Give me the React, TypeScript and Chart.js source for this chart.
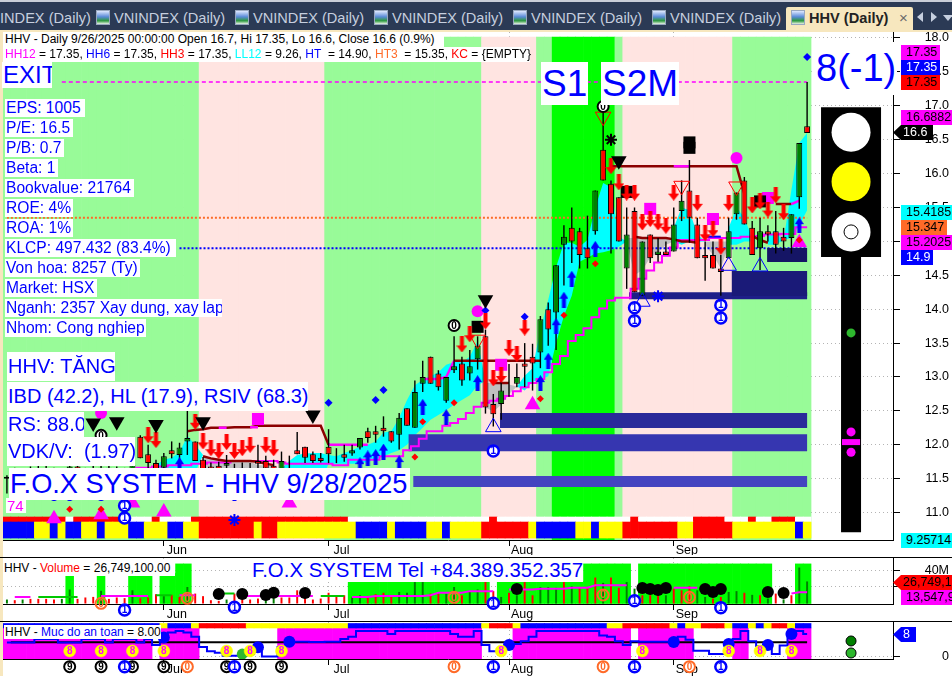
import React, { useEffect, useRef } from "react";
import { Chart, registerables } from "chart.js";
Chart.register(...registerables);

/* ---------- data ---------- */
const mayDays = [5,6,7,8,9,12,13,14,15,16,19,20,21,22,23,26,27,28,29,30];
const junDays = [2,3,4,5,6,9,10,11,12,13,16,17,18,19,20,23,24,25,26,27,30];
const julDays = [1,2,3,4,7,8,9,10,11,14,15,16,17,18,21,22,23,24,25,28,29,30,31];
const augDays = [1,4,5,6,7,8,11,12,13,14,15,18,19,20,21,22,25,26,27,28,29];
const sepDays = [3,4,5,8,9,10,11,12,15,16,17,18,19,22,23,24,25,26];
const monthNames = ["May", "Jun", "Jul", "Aug", "Sep"];
const monthDays = [mayDays, junDays, julDays, augDays, sepDays];
const dates = monthDays.flatMap((d, m) => d.map((n) => `${monthNames[m]} ${n}`));
const monthStarts = [20, 41, 64, 85];
const priceTicks = [11,11.5,12,12.5,13,13.5,14,14.5,15,15.5,16,16.5,17,17.5,18];
const volumeTicks = [20,40];
const safetyTicks = [0];

const opens = [11.5,11.6,11.48,11.58,11.52,11.64,11.56,11.48,11.46,11.68,11.54,11.5,11.44,11.66,11.54,11.6,11.46,12.12,11.86,11.73,11.66,11.92,11.85,12.05,12.05,11.78,11.68,11.69,11.69,11.65,11.62,11.7,11.76,11.76,11.69,11.63,11.82,11.92,11.97,11.86,11.81,11.97,11.8,11.86,11.87,11.96,12.2,12.2,12.25,12.2,12.15,12.54,12.25,12.9,13.3,13.05,12.65,13.1,13.2,13.05,13.26,13.6,12.6,12.6,12.81,12.9,13.2,13.3,13.36,14,13.95,14.95,15.2,15.15,14.9,15.15,16.35,15.85,15.65,14.6,15.45,14.2,15.1,14.8,14.85,14.85,15.45,15.75,15.25,14.8,14.8,14.6,14.75,15.4,15.9,15.2,14.9,15.15,15.15,15.07,15.05,15.65,16.7];
const highs = [11.55,11.66,11.62,11.68,11.7,11.72,11.66,11.64,11.74,11.72,11.66,11.7,11.72,11.7,11.68,11.66,11.76,12.14,12,11.78,11.88,12.05,12.03,12.51,12.05,11.82,11.74,11.75,11.85,11.72,11.74,11.73,12,11.84,11.78,11.9,11.84,12.19,11.97,11.9,11.88,12.23,11.95,12,12,12.1,12.25,12.28,12.42,12.2,12.47,12.54,12.95,13.24,13.3,13.1,13,13.6,13.3,13.4,13.6,13.7,12.75,13.05,13.19,13.2,13.5,13.49,13.9,14.1,14.65,15.24,15.5,15.2,15.38,15.75,16.9,15.9,15.65,15.5,15.5,15,15.1,15.05,15,15.5,15.9,16.2,15.35,15,15,14.8,15.35,15.72,15.95,15.3,15.35,15.24,15.45,15.2,15.4,16.45,17.35];
const lows = [11.28,11.42,11.4,11.44,11.46,11.5,11.42,11.4,11.38,11.48,11.44,11.44,11.36,11.46,11.48,11.44,11.4,11.8,11.6,11.56,11.56,11.8,11.72,11.85,11.76,11.55,11.5,11.56,11.62,11.52,11.54,11.6,11.6,11.55,11.5,11.52,11.63,11.86,11.73,11.73,11.74,11.73,11.73,11.75,11.84,11.93,12.03,12.03,12.12,12.03,11.93,12.28,12.25,12.78,12.9,12.8,12.62,13.06,12.87,12.95,13.11,12.46,12.27,12.37,12.71,12.85,12.85,12.8,13.13,13.46,13.4,14.35,14.68,14.6,14.6,15.1,15.9,14.82,15,14.3,14.25,14.2,14.68,14.7,14.8,14.85,15.3,14.98,14.75,14.42,14.6,14.2,14.75,15.32,15.25,14.8,14.58,15,14.82,14.86,14.82,15.48,16.6];
const closes = [11.53,11.48,11.58,11.52,11.64,11.56,11.48,11.6,11.68,11.54,11.5,11.62,11.66,11.54,11.6,11.5,11.7,11.8,11.73,11.63,11.83,11.86,11.96,12.1,11.76,11.63,11.58,11.62,11.73,11.58,11.66,11.7,11.72,11.65,11.6,11.76,11.82,11.86,11.81,11.76,11.76,11.86,11.8,11.81,11.92,12.1,12.1,12.15,12.2,12.05,12.4,12.28,12.78,13,12.9,12.85,13,13.16,12.95,13.16,13.46,12.55,12.45,12.8,12.81,13,13.15,13.2,13.85,13.7,14.65,15.07,15,14.8,14.75,15.75,15.9,15.4,15,15.1,14.25,15,14.75,14.85,14.8,15.25,15.6,15.35,14.75,14.75,14.6,14.55,15.15,15.72,15.25,14.8,15.15,15.1,14.95,15,15.4,16.45,16.6];

const zoneRuns = [["g",25],["p",16],["g",20],["p",7],["g",2],["l",8],["g",1],["p",14],["g",10]];
const stateRuns = [["b",4],["y",2],["b",1],["y",1],["b",2],["y",2],["b",1],["y",3],["b",2],["y",3],["b",2],["y",2],["r",7],["y",1],["r",2],["y",10],["b",4],["y",1],["b",4],["y",2],["b",1],["y",4],["r",6],["y",1],["b",5],["y",2],["b",1],["y",3],["r",7],["y",2],["r",5],["y",8],["b",1],["y",1]];
const alertRuns = [["r",8],["w",1],["r",7],["w",3],["r",1],["w",4],["r",20],["w",18],["r",1],["w",17],["r",1],["w",7],["r",4],["w",3],["r",1],["w",2],["r",3],["w",2]];
const zoneBounds = [10.596, 18.015];
const stateBounds = [10.625, 10.861];
const alertBounds = [10.861, 10.935];

const cyanSegments = [
  [18, [11.63,11.7,11.78,11.81,11.89,12.13,12,11.85], [11.63,11.55,11.5,11.5,11.5,11.5,11.6,11.85]],
  [35, [11.65,11.76,11.85,11.87,11.88,11.88,11.85,11.83,11.88,11.92,11.97,12,12.05,12.18,12.2,12.4,12.66,12.88,12.96,13.01,13.07,13.18,13.22,13.22,13.3,13.53,12.94],
       [11.5,11.45,11.45,11.45,11.45,11.45,11.72,11.72,11.72,11.72,11.72,11.75,11.78,11.83,11.88,11.92,12,12.14,12.25,12.37,12.44,12.51,12.59,12.66,12.73,12.88,12.94]],
  [65, [12.86,13.02,13.13,13.69,14.14,14.62,14.98,14.98,14.92,15.02,15.5,15.86,15.8,15.07,15], [12.86,12.8,12.93,12.96,13.01,13.5,13.9,14.2,14.7,14.76,14.82,14.84,14.87,14.92,15]],
  [85, [15.2,15.5,15.46,15.1,15], [15,14.95,15,15,15]],
  [92, [15.2,15.5,15.35,15.05], [14.95,14.95,15,15]],
  [97, [15.07,15.17], [14.95,14.95]],
  [99, [15.02,15.76,16.45,16.6], [15.02,15.05,15.24,15.46]],
];
const graySegments = [
  [25, [11.83,11.8,11.77,11.76,11.75,11.75,11.75,11.7,11.7,11.68,11.62], [11.5,11.5,11.5,11.5,11.5,11.5,11.5,11.5,11.5,11.5,11.62]],
  [61, [12.91,12.91,12.91,12.89,12.86], [12.55,12.49,12.59,12.75,12.86]],
  [79, [15.05,15.05,15.05,15.05,15.05,15.05,15], [15,14.5,14.58,14.76,14.84,14.95,15]],
  [89, [15,15,15,15], [14.95,14.8,14.6,14.95]],
  [98, [15.14,15.14], [15.14,15]],
];
const supportLine = [11.2,11.2,11.2,11.2,11.2,11.2,11.3,11.3,11.4,11.4,11.4,11.5,11.5,11.5,11.6,11.6,11.6,11.66,11.66,11.68,11.68,11.7,11.7,11.7,11.72,11.72,11.74,11.74,11.74,11.76,11.76,11.76,11.76,11.76,11.76,11.74,11.72,11.72,11.72,11.72,11.72,11.72,11.7,11.7,11.78,11.78,11.78,11.78,11.83,11.83,11.83,11.92,11.98,12.09,12.2,12.2,12.28,12.32,12.38,12.47,12.56,12.62,12.65,12.68,12.72,12.79,12.85,12.91,12.97,13.07,13.19,13.31,13.53,13.62,13.72,13.88,14.01,14.13,14.17,14.17,14.3,14.45,14.57,14.69,14.79,14.91,15.02,15.02,15.02,15.02,15.05,15.05,15.05,15.05,15.07,15.07,15.08,15.1,15.1,15.11,15.11,15.21,15.21];
const resistancePrimary = [[23,[12.2,12.22,12.23,12.25,12.25,12.25,12.26,12.26,12.26,12.28,12.28,12.28,12.28,12.28,12.28,12.28,12.28,12.28,12.0]],[57,[13.24,13.24,13.24,13.24,13.24,13.24,13.24,13.24,13.24,13.24,13.24,13.24]],[77,[16.11,16.11,16.11,16.11,16.11,16.11,16.11,16.11,16.11,16.11,16.11,16.11,16.11,16.11,16.11,16.11,16.11,15.7]],[98,[15.55,15.55,15.55]]];
const resistanceSecondary = [[25,[11.83,11.8,11.78,11.76,11.76,11.76,11.76,11.75,11.72,11.7]],[62,[12.91,12.91,12.91]],[80,[15.07,15.05,15.05,15.05,15.05,15.03,15,15,14.98]],[95,[15.08,15.02,14.98]]];
const resistanceAccent = [[27,[12.25,12.25]],[31,[12.26,12.26]],[41,[12,12,12,12,12,12]],[53,[12.97,12.97,12.97,13,13.24]],[85,[16.11,16.11,16.11]],[100,[15.55,15.6]]];
const blueDrift = [[89,[15.07,15.07,15.07]]];
const levelExit = 17.35;
const levelOrange = 15.35;
const levelBlue = 14.9;

const bandSpans = [[62.85,12.36],[51.2,12.03],[51.8,11.46],[79.3,14.2],[92.4,14.38],[96.9,14.8]];
const bandLastBar = 102;

const redArrows = [[18,12.14],[19,12.07],[24,12.34],[25,12.05],[26,11.95],[27,11.91],[28,12.04],[29,11.91],[30,11.95],[31,12],[33,12],[34,11.95],[58,13.48],[59,13.63],[61,13.82],[62,12.98],[63,13.03],[64,13.43],[65,13.34],[66,13.73],[77,16.11],[78,15.87],[79,15.72],[80,15.72],[81,15.28],[82,15.33],[83,15.28],[84,15.23],[85,15.72],[88,15.57],[89,15.12],[90,15.18],[91,14.92],[92,15.57],[95,15.53],[96,15.59],[97,15.47],[98,15.68],[99,15.43]];
const blueArrows = [[6,11.29],[8,11.29],[12,11.29],[22,11.7],[29,11.29],[45,11.7],[46,11.8],[47,11.82],[48,11.9],[50,11.73],[53,12.56],[56,12.41],[60,12.91],[68,12.91],[69,13.24],[70,13.75],[71,14.14],[72,14.45],[75,14.89],[101,15.24]];
const blackTriangles = [[11,12.32],[14,12.34],[19,12.3],[25,12.34],[39,12.44],[61,14.14],[78,16.19]];
const magentaSquares = [[32,12.38],[63,13.18],[82,15.48],[90,15.33],[97,15.64]];
const blackSquares = [[60,13.74],[79,15.73],[96,15.59],[87,16.38],[87,16.46]];
const magentaCircles = [[12,12.47],[60,13.97],[93,16.23]];
const hollowRedTriangles = [[76,16.84],[86,15.82],[93,15.81],[60,13.55]];
const hollowBlueTriangles = [[62,12.26],[81,14.11],[92,14.64],[96,14.63]];
const blueDiamonds = [[41,12.62],[47,12.66],[48,12.81],[61,13.98],[66,13.89],[102,17.72]];
const redDiamonds = [[8,11.05],[12,11.05],[52,11.82],[53,12.34],[57,12.62],[68,12.68],[71,13.91],[75,14.67],[101,15.02]];
const magentaTriangles = [[6,10.91],[12,10.97],[16,11.14],[20,11.01],[36,11.14],[67,12.59],[101,14.98]];
const blueStars = [[29,10.89],[83,14.19]];
const blackStars = [[77,16.5]];
const blueOnes = [[80,14.02],[80,13.83],[91,14.06],[91,13.87],[62,11.91],[15,11.1],[15,10.92]];
const blackZeros = [[76,16.99],[57,13.76],[12,12.14]];

const lightPos = 107.6;
const lightHood = [16.98, 14.77];
const lightPole = [14.77, 10.71];
const lightLamps = [16.61, 15.88, 15.14];
const lightGreenDot = [13.65];
const lightMagentaDots = [12.19, 11.89];
const lightMagentaBar = [12.04];

const volumes = [4.8,4,4.8,5.6,5.6,5.6,4.8,5.6,17,5.6,7.3,8,15.4,5.6,7.3,6.5,16,6.5,7.3,11.3,8.9,10.5,8,20,12,8.9,4,3.2,4.8,12,6,4.8,6,8,8.9,7.3,7.3,16,10,4.8,6,13,8,10,7.3,10,8,11.3,13,10,14,13,26,26,12,12,12,20,10,14,17,26,15,8,13,10,26,10,20,20,19,26,21,20,20,31.5,25,31.5,19,26,18,10,10,10,10,18,16,21,16,8,6,8,14,15,13,10.5,10,6,12,5,10,43.6,26.75];
const volumeSides = "grgrrrrggrrrgrrrgrrrgrrgrrrrgrrrrggrrrrrrrrrggrrrrggggrrggrggrrgrgrrgggrgrrrgrrggrrrgrrrggrrggrgrgrgrggr".slice(0, 103);
const volumeShade = [0,0,0,0,0,0,0,0,36.4,0,0,0,36.4,0,0,0,36.4,36.4,36.4,0,36.4,36.4,48,48,0,0,0,0,0,0,0,0,0,0,0,0,0,0,0,0,0,0,0,0,26.7,26.7,26.7,26.7,26.7,26.7,26.7,26.7,26.7,26.7,26.7,26.7,26.7,26.7,26.7,26.7,26.7,26.7,0,26.7,26.7,26.7,26.7,26.7,26.7,26.7,26.7,26.7,26.7,26.7,48,48,48,48,48,48,0,48,48,48,48,48,48,48,48,48,48,48,48,48,48,48,48,48,0,0,0,48,48];
const volumeAverage = [8,8,8,8,8,8,8,8,8,8,8,9,9,9,9,9,9,9,9,10,10,10,10,10,10,12,12,12,12,12,9,9,9,9,9,9,9,9,9,9,9,9,9,9,8,8,8,9,9,9,9,9,9,9,10,13,13,13,13,15,15,15,15,0,17,17,17,17,18,18,18,18,19,19,19,22,22,22,22,22,0,0,0,0,0,19,19,19,19,0,0,0,0,0,0,0,0,0,12,0,12,13.5,13.5];
const volumeAverageGreen = [0,4,5,6,7,8,9,11,19,20,21,25,27,28,29,40,41,42,43,98];
const blackDots = [[27,11.5],[30,11.5],[33,10.3],[34,13],[38,12.7],[65,17.6],[81,18.8],[82,17.6],[83,16.4],[84,18.8],[89,17.6],[90,13.9],[91,17.6],[97,13.9],[99,12.7]];
const volumeZeros = [[12,0.2],[23,6.3],[57,7.5],[76,10.3],[87,7.5]];
const volumeOnes = [[15,-7.9],[29,-4.6],[62,0.2],[80,3.4],[91,-5]];

const safetyRuns = [["b",20],["y",1],["b",3],["y",1],["r",6],["y",13],["b",17],["y",1],["r",3],["y",1],["b",11],["y",2],["r",6],["y",1],["b",1],["y",2],["r",3],["y",1],["b",2],["y",1],["b",1],["y",1],["r",2],["y",1],["b",2]];
const safeRuns = [[0,18],[20,24],[35,60],[65,79],[81,87],[93,94],[100,102]];
const safetyLine = [5,5,5,5,6.3,6.3,6.3,5,5,5,6.3,6.3,6.3,5,6.3,6.3,6.3,5,6.3,4.2,6.8,8.5,9,8.5,7,3.5,2,1.5,0.4,0.4,0.4,1,2,0.2,0.2,3.5,5.3,5.3,5.3,5.2,5.2,5.3,5.3,6.3,7,9,9,9,9,8,9,9,9,9,9,9,9,8,7,7,9,4.2,2,2,4.5,4.5,5.5,7,9,9,9,9,9,9,9,9,7.5,7,5.5,4.2,5.5,5.3,5.3,5.3,5.3,6.3,7,6,2.2,2.2,1,1,1,6.3,9,5.5,3.8,3.8,1,4,7.7,9,8];
const safetyLevel = 5.1;
const safetyBounds = [-0.7, 10.09, 11.65];
const safetyDots = [[20,6.8],[32,3.4],[36,5.3],[64,4.2],[85,5.2],[92,4.5],[97,4.2],[100,8]];
const safetyGreen = [[30,1]];
const safetyEights = [[8,2.09],[12,2.09],[16,2.09],[20,2.09],[28,2.09],[31,2.09],[35,2.09],[63,2.09],[81,2.09],[92,2.09],[96,2.09],[100,2.09]];
const safetyNines = [[8,-3.37],[12,-3.37],[16,-3.37],[20,-3.37],[28,-3.37],[31,-3.37],[35,-3.37]];
const safetyOnes = [[15,-3.37],[29,-3.37],[62,-3.37],[80,-3.37],[91,-3.37]];
const safetyZeros = [[23,-3.37],[57,-3.37],[76,-3.37],[87,-3.37]];
const safetyLights = [5.57, 1.39];

const factRows = ["EPS: 1005","P/E: 16.5","P/B: 0.7","Beta: 1","Bookvalue: 21764","ROE: 4%","ROA: 1%","KLCP: 497.432 (83.4%)","Von hoa: 8257 (Ty)","Market: HSX","Nganh: 2357 Xay dung, xay lap","Nhom: Cong nghiep"];
const tabTitle = "VNINDEX (Daily)";

/* ---------- helpers ---------- */
const N = dates.length;
const FONT = "'Liberation Sans', Arial, sans-serif";
const PAL: Record<string, string> = { g: "#98FB98", p: "#FFE4E1", l: "#00FF00", b: "#0000FF", y: "#FFFF00", r: "#FF0000", w: "#FFFFFF" };
const expand = (runs: any[]) => runs.flatMap(([c, n]: any) => Array(n).fill(c));
const fromSegments = (segs: any[], pick: number) => {
  const out: (number | null)[] = Array(N).fill(null);
  segs.forEach((s: any) => s[pick].forEach((v: number, k: number) => { out[s[0] + k] = v; }));
  return out;
};
const series = (a: (number | null)[]) => a.map((y, x) => ({ x, y }));
const pairs = (a: number[][]) => a.map(([x, y]) => ({ x, y }));
const rangeBars = (code: string[], lo: number, hi: number) => ({
  type: "bar", data: code.map((_, x) => ({ x, y: [lo, hi] })), backgroundColor: code.map((c) => PAL[c]),
  categoryPercentage: 1, barPercentage: 1, grouped: false, borderWidth: 0,
});
const lineSet = (a: any[], color: string, width: number, extra: any = {}) => ({
  type: "line", data: a, borderColor: color, borderWidth: width, pointRadius: 0, tension: 0, fill: false, borderCapStyle: "butt", ...extra,
});
const marks = (a: number[][], style: any, r: number, bg: string, extra: any = {}) => ({
  type: "line", data: pairs(a), showLine: false, pointStyle: style, pointRadius: r, pointBackgroundColor: bg,
  pointBorderColor: bg, pointBorderWidth: 0, ...extra,
});
const arrowImage = (color: string, up: boolean, w: number, h: number) => {
  const c = document.createElement("canvas"); c.width = w; c.height = h;
  const g = c.getContext("2d")!;
  g.fillStyle = color;
  if (!up) { g.translate(0, h); g.scale(1, -1); }
  const s = Math.round(w * 0.18);
  const hh = Math.round(h * 0.45);
  g.beginPath(); g.moveTo(w / 2, 0); g.lineTo(w, hh); g.lineTo(w / 2 + s, hh); g.lineTo(w / 2 + s, h);
  g.lineTo(w / 2 - s, h); g.lineTo(w / 2 - s, hh); g.lineTo(0, hh); g.closePath(); g.fill();
  return c;
};
const glyphPlugin = (sets: any[]) => ({
  id: "glyphs",
  afterDatasetsDraw(chart: any) {
    const { ctx, scales } = chart;
    sets.forEach((g) => g.points.forEach(([i, v]: number[]) => {
      const px = scales.x.getPixelForValue(i); const py = scales.y.getPixelForValue(v);
      ctx.save();
      ctx.beginPath(); ctx.arc(px, py, g.r, 0, Math.PI * 2);
      if (g.fill) { ctx.fillStyle = g.fill; ctx.fill(); }
      ctx.lineWidth = g.ring; ctx.strokeStyle = g.stroke; ctx.stroke();
      ctx.fillStyle = g.color; ctx.font = `bold 10px ${FONT}`; ctx.textAlign = "center"; ctx.textBaseline = "middle";
      ctx.fillText(g.text, px, py + 0.5);
      ctx.restore();
    }));
  },
});
const oneStyle = { text: "1", r: 5.5, ring: 2.5, stroke: "#0000FF", fill: "#FFFFFF", color: "#0000FF" };
const zeroStyle = { text: "0", r: 5.5, ring: 2, stroke: "#000000", fill: "#FFFFFF", color: "#000000" };
const orangeStyle = { text: "0", r: 5.5, ring: 2, stroke: "#FF6A28", fill: null, color: "#FF6A28" };
const orangeFilled = { ...orangeStyle, fill: "#FFFFFF" };
const nineStyle = { text: "9", r: 5.5, ring: 2, stroke: "#000000", fill: "#FFFFFF", color: "#000000" };
const eightStyle = { text: "8", r: 6, ring: 0.5, stroke: "#FFFF00", fill: "#FFFF00", color: "#FF00FF" };

const xAxis = (h: number, pad: number) => ({
  type: "linear", min: -0.5, max: -0.5 + 890 / 7.845, offset: false, bounds: "data",
  afterBuildTicks: (a: any) => { a.ticks = monthStarts.map((value) => ({ value })); },
  afterFit: (s: any) => { s.height = h; s.paddingLeft = 0; s.paddingRight = 0; s.paddingTop = 0; s.paddingBottom = 0; },
  grid: { offset: false, color: "#b4b4b4", tickColor: "#000", tickLength: 6, lineWidth: 1 },
  border: { color: "#000", dash: [1, 3] },
  ticks: {
    autoSkip: false, maxRotation: 0, minRotation: 0, color: "#000", padding: pad, labelOffset: 13,
    font: { family: FONT, size: 12.5 },
    callback: (v: number) => dates[v] ? dates[v].split(" ")[0] : "",
  },
});
const yAxis = (min: number, max: number, list: number[], cb: any) => ({
  position: "right", min, max, bounds: "data",
  afterBuildTicks: (a: any) => { a.ticks = list.map((value) => ({ value })); },
  afterFit: (s: any) => { s.width = 56; s.paddingTop = 0; s.paddingBottom = 0; s.paddingLeft = 0; s.paddingRight = 0; },
  grid: { color: "#b4b4b4", tickColor: "#000", tickLength: 7 },
  border: { color: "#000", dash: [1, 3] },
  ticks: { autoSkip: false, crossAlign: "far", padding: 2, color: "#000", font: { family: FONT, size: 12.5 }, callback: cb },
});
const baseOptions = (scales: any) => ({
  animation: false, responsive: false, maintainAspectRatio: false, devicePixelRatio: 1, events: [],
  layout: { autoPadding: false, padding: { left: 3, right: 3, top: 0, bottom: 0 } },
  plugins: { legend: { display: false }, tooltip: { enabled: false } },
  scales,
});
const withOrder = (sets: any[]) => sets.map((d, i) => ({ ...d, order: sets.length - i }));

/* ---------- chart builders ---------- */
function priceDatasets() {
  const redArrow = arrowImage("#FF0000", false, 11, 16);
  const blueArrow = arrowImage("#0000FF", true, 9, 16);
  const cyanTop = fromSegments(cyanSegments, 1), cyanBottom = fromSegments(cyanSegments, 2);
  const grayTop = fromSegments(graySegments, 1), grayBottom = fromSegments(graySegments, 2);
  const up = opens.map((o, i) => closes[i] >= o);
  const level = (v: number, c: string, dash: number[], from: number, w: number) =>
    lineSet([{ x: from, y: v }, { x: 102, y: v }], c, w, { borderDash: dash });
  const band = (k: number, c: string, w: number) =>
    lineSet([{ x: bandSpans[k][0], y: bandSpans[k][1] }, { x: bandLastBar, y: bandSpans[k][1] }], c, w);
  const seg = (s: any[]) => { const o: (number | null)[] = Array(N).fill(null); s.forEach((q: any) => q[1].forEach((v: number, k: number) => { o[q[0] + k] = v; })); return series(o); };
  return withOrder([
    rangeBars(expand(zoneRuns), zoneBounds[0], zoneBounds[1]),
    rangeBars(expand(alertRuns), alertBounds[0], alertBounds[1]),
    rangeBars(expand(stateRuns), stateBounds[0], stateBounds[1]),
    lineSet(series(cyanTop), "rgba(0,0,0,0)", 0, { fill: "+1", backgroundColor: "#00FFFF" }),
    lineSet(series(cyanBottom), "rgba(0,0,0,0)", 0),
    lineSet(series(grayTop), "rgba(0,0,0,0)", 0, { fill: "+1", backgroundColor: "#C0C0C0" }),
    lineSet(series(grayBottom), "rgba(0,0,0,0)", 0),
    level(levelExit, "#FF00FF", [4, 3], 7, 1.5),
    level(levelOrange, "#FF6A28", [2, 2], 0, 2),
    level(levelBlue, "#0000FF", [2, 2], 22, 2),
    band(2, "#4444C0", 11), band(1, "#3636B0", 17), band(0, "#2A2A9A", 15),
    band(3, "#1E1E88", 7), band(4, "#1A1A78", 25), band(5, "#151565", 14),
    lineSet(series(supportLine), "#FF00FF", 2, { stepped: "middle" }),
    lineSet(seg(resistancePrimary), "#8B0000", 2.5),
    lineSet(seg(resistanceSecondary), "#8B0000", 2.5),
    lineSet(seg(blueDrift), "#0000FF", 2),
    lineSet(seg(resistanceAccent), "#FF00FF", 2.5),
    { type: "bar", data: dates.map((_, x) => ({ x, y: [lows[x], highs[x]] })), backgroundColor: "#000", categoryPercentage: 0.18, barPercentage: 1, grouped: false, inflateAmount: 0 },
    { type: "bar", data: dates.map((_, x) => ({ x, y: [opens[x], closes[x]] })).filter((d) => up[d.x]), backgroundColor: "#008000", borderColor: "#000", borderWidth: 1, borderSkipped: false, categoryPercentage: 0.76, barPercentage: 1, grouped: false },
    { type: "bar", data: dates.map((_, x) => ({ x, y: [opens[x], closes[x]] })).filter((d) => !up[d.x]), backgroundColor: "#FF0000", borderColor: "#000", borderWidth: 1, borderSkipped: false, categoryPercentage: 0.76, barPercentage: 1, grouped: false },
    marks(magentaTriangles, "triangle", 9, "#FF00FF"),
    marks(magentaSquares, "rect", 8.5, "#FF00FF"),
    marks(magentaCircles, "circle", 6, "#FF00FF"),
    marks(blackSquares, "rect", 8.5, "#000"),
    marks(redDiamonds, "rectRot", 3.5, "#FF0000"),
    marks(blueDiamonds, "rectRot", 4, "#0000FF"),
    marks(redArrows, redArrow, 8, "#FF0000"),
    marks(blueArrows, blueArrow, 8, "#0000FF"),
    marks(blackTriangles, "triangle", 9, "#000", { pointRotation: 180 }),
    marks(hollowRedTriangles, "triangle", 9, "rgba(0,0,0,0)", { pointRotation: 180, pointBorderColor: "#FF0000", pointBorderWidth: 1 }),
    marks(hollowBlueTriangles, "triangle", 9, "rgba(0,0,0,0)", { pointBorderColor: "#0000FF", pointBorderWidth: 1 }),
    marks(blueStars, "star", 6, "#0000FF", { pointBorderWidth: 2, pointBorderColor: "#0000FF" }),
    marks(blackStars, "star", 6, "#000", { pointBorderWidth: 2, pointBorderColor: "#000" }),
    lineSet([{ x: lightPos, y: lightHood[0] }, { x: lightPos, y: lightHood[1] }], "#000", 60),
    lineSet([{ x: lightPos, y: lightPole[0] }, { x: lightPos, y: lightPole[1] }], "#000", 20),
    marks([[lightPos, lightLamps[0]]], "circle", 19.5, "#FFFFFF"),
    marks([[lightPos, lightLamps[1]]], "circle", 19.5, "#FFFF00"),
    marks([[lightPos, lightLamps[2]]], "circle", 19.5, "#FFFFFF"),
    marks([[lightPos, lightLamps[2]]], "circle", 7, "#FFFFFF", { pointBorderColor: "#000", pointBorderWidth: 1 }),
    marks([[lightPos, lightGreenDot[0]]], "circle", 4.5, "#2EB82E"),
    marks(lightMagentaDots.map((v) => [lightPos, v]), "circle", 4.5, "#FF00FF"),
    lineSet([{ x: lightPos - 1.15, y: lightMagentaBar[0] }, { x: lightPos + 1.15, y: lightMagentaBar[0] }], "#FF00FF", 6),
  ]);
}
function volumeDatasets() {
  const shade = volumeShade.map((y, x) => ({ x, y })).filter((d) => d.y > 0);
  const green = new Set(volumeAverageGreen);
  const avg = volumeAverage.map((v, x) => ({ x, y: v > 0 && !green.has(x) ? v : null }));
  const avgG = volumeAverage.map((v, x) => ({ x, y: v > 0 && green.has(x) ? v : null }));
  const all = volumes.map((y, x) => ({ x, y }));
  return withOrder([
    { type: "bar", data: shade, backgroundColor: "#00FF00", categoryPercentage: 1, barPercentage: 1, grouped: false },
    { type: "bar", data: all.filter((d) => volumeSides[d.x] === "g"), backgroundColor: "#008000", categoryPercentage: 0.25, barPercentage: 1, grouped: false },
    { type: "bar", data: all.filter((d) => volumeSides[d.x] !== "g"), backgroundColor: "#FF0000", categoryPercentage: 0.25, barPercentage: 1, grouped: false },
    lineSet(avg, "#FF00FF", 2),
    lineSet(avgG, "#00C800", 2),
    marks(blackDots, "circle", 6, "#000"),
  ]);
}
function safetyDatasets() {
  const code = expand(safetyRuns);
  const safe = dates.map((_, x) => x).filter((x) => safeRuns.some(([a, b]) => x >= a && x <= b));
  return withOrder([
    { type: "bar", data: safe.map((x) => ({ x, y: [safetyBounds[0], safetyBounds[1]] })), backgroundColor: "#FF00FF", categoryPercentage: 1, barPercentage: 1, grouped: false, borderWidth: 0 },
    rangeBars(code, safetyBounds[1], safetyBounds[2]),
    lineSet([{ x: 0.5, y: safetyLevel }, { x: 102, y: safetyLevel }], "#000", 2),
    lineSet(series(safetyLine), "#0000FF", 2, { stepped: "middle" }),
    marks(safetyGreen, "circle", 5.5, "#2EB82E"),
    marks(safetyDots, "circle", 6, "#0000FF"),
    marks([[lightPos, safetyLights[0]]], "circle", 5, "#008000", { pointBorderColor: "#000", pointBorderWidth: 1 }),
    marks([[lightPos, safetyLights[1]]], "circle", 5, "#2EB82E", { pointBorderColor: "#000", pointBorderWidth: 1 }),
  ]);
}

/* ---------- small html pieces ---------- */
const box = (left: number, top: number, width: number | undefined, height: number, extra: any = {}) => ({
  position: "absolute", left, top, width, height, ...extra,
}) as React.CSSProperties;
function Tab({ x }: { x: number }) {
  return (<>
    <div style={box(x, 10, 14, 15, { background: "linear-gradient(#dfe8ff 0%,#5a8ad8 45%,#2c9a3c 75%,#e8f0e8 100%)", border: "1px solid #9aa8c0", boxSizing: "border-box" })} />
    <div style={box(x + 18, 9, 112, 18, { color: "#c6cfdf", font: `14.6px ${FONT}`, lineHeight: "18px", whiteSpace: "nowrap" })}>{tabTitle}</div>
  </>);
}
function Fact({ x, y, w, h, size, text, color = "#0000FF" }: any) {
  return <div style={box(x, y, w, h, { background: "#fff", color, font: `${size}px ${FONT}`, lineHeight: `${h}px`, whiteSpace: "pre", overflow: "hidden", paddingLeft: 1, boxSizing: "border-box" })}>{text}</div>;
}
function Tag({ x, y, w, bg, color = "#000", text, arrow = false, h = 15 }: any) {
  return <div style={box(x, y, w, h, { background: bg, color, font: `12.5px ${FONT}`, lineHeight: `${h}px`, textAlign: "left", paddingLeft: arrow ? 10 : 5, boxSizing: "border-box", whiteSpace: "nowrap", overflow: "hidden", clipPath: arrow ? "polygon(0 50%,8px 0,100% 0,100% 100%,8px 100%)" : undefined })}>{text}</div>;
}
const S = ({ c, t }: { c: string; t: string }) => <span style={{ color: c }}>{t}</span>;

export default function App() {
  const price = useRef<HTMLCanvasElement>(null);
  const vol = useRef<HTMLCanvasElement>(null);
  const safety = useRef<HTMLCanvasElement>(null);
  useEffect(() => {
    const charts = [
      new Chart(price.current!, {
        type: "bar", data: { datasets: priceDatasets() } as any,
        options: baseOptions({ x: xAxis(15, -3), y: yAxis(18 - (540 - 38) / 67.8, 18 + 6 / 67.8, priceTicks, (v: number) => v.toFixed(1)) }) as any,
        plugins: [glyphPlugin([{ ...oneStyle, points: blueOnes }, { ...zeroStyle, points: blackZeros }])],
      }),
      new Chart(vol.current!, {
        type: "bar", data: { datasets: volumeDatasets() } as any,
        options: baseOptions({ x: xAxis(17, -3), y: yAxis(-0.6, 55.14, volumeTicks, (v: number) => `${v}M`) }) as any,
        plugins: [glyphPlugin([{ ...orangeStyle, points: volumeZeros }, { ...oneStyle, points: volumeOnes }])],
      }),
      new Chart(safety.current!, {
        type: "bar", data: { datasets: safetyDatasets() } as any,
        options: baseOptions({ x: xAxis(17, -3), y: yAxis(-0.7, 12.17, safetyTicks, (v: number) => `${v}`) }) as any,
        plugins: [glyphPlugin([{ ...eightStyle, points: safetyEights }, { ...nineStyle, points: safetyNines }, { ...oneStyle, points: safetyOnes }, { ...orangeFilled, points: safetyZeros }])],
      }),
    ];
    return () => charts.forEach((c) => c.destroy());
  }, []);

  return (
    <div style={{ position: "absolute", left: 0, top: 0, width: 952, height: 676, overflow: "hidden", background: "#fff", font: `12px ${FONT}` }}>
      {/* window tabs */}
      <div style={box(0, 0, 952, 2, { background: "#c9ced8" })} />
      <div style={box(0, 2, 952, 28, { background: "#2B3A55" })} />
      <div style={box(0, 30, 952, 2, { background: "#F7E7BE" })} />
      <div style={box(0, 9, 90, 18, { color: "#c6cfdf", font: `14.6px ${FONT}`, lineHeight: "18px", whiteSpace: "nowrap" })}>INDEX (Daily)</div>
      {[96, 235, 374, 513, 652].map((x) => <Tab key={x} x={x} />)}
      <div style={box(786, 7, 127, 25, { background: "#F7E7BE", borderRadius: "2px 2px 0 0" })} />
      <div style={box(791, 10, 14, 15, { background: "linear-gradient(#dfe8ff 0%,#5a8ad8 45%,#2c9a3c 75%,#e8f0e8 100%)", border: "1px solid #9aa8c0", boxSizing: "border-box" })} />
      <div style={box(809, 9, 90, 18, { color: "#222", font: `bold 14.6px ${FONT}`, lineHeight: "18px", whiteSpace: "nowrap" })}>HHV (Daily)</div>
      <div style={box(899, 9, 12, 18, { color: "#6a6a6a", font: `15px ${FONT}`, lineHeight: "18px" })}>×</div>
      <div style={box(917, 12, 0, 0, { borderTop: "5px solid transparent", borderBottom: "5px solid transparent", borderRight: "6px solid #c6cfdf" })} />
      <div style={box(931, 12, 0, 0, { borderTop: "5px solid transparent", borderBottom: "5px solid transparent", borderLeft: "6px solid #c6cfdf" })} />
      <div style={box(943, 15, 0, 0, { borderLeft: "5px solid transparent", borderRight: "5px solid transparent", borderTop: "6px solid #c6cfdf" })} />

      <canvas ref={price} width={952} height={523} style={box(0, 32, 952, 523, { display: "block" })} />
      <canvas ref={vol} width={952} height={63} style={box(0, 558, 952, 63, { display: "block" })} />
      <canvas ref={safety} width={952} height={54} style={box(0, 622, 952, 54, { display: "block" })} />

      {/* frame */}
      <div style={box(0, 32, 3, 644, { background: "#F7E7BE" })} />
      <div style={box(0, 557, 952, 1, { background: "#000" })} />
      <div style={box(0, 621, 952, 1, { background: "#000" })} />

      {/* legend rows */}
      <div style={box(3, 32, 441, 15, { background: "#fff", whiteSpace: "nowrap", font: `12px ${FONT}`, lineHeight: "15px", paddingLeft: 2, boxSizing: "border-box", color: "#000" })}>HHV - Daily 9/26/2025 00:00:00 Open 16.7, Hi 17.35, Lo 16.6, Close 16.6 (0.9%)</div>
      <div style={box(3, 47, 527, 15, { background: "#fff", whiteSpace: "nowrap", font: `12px ${FONT}`, lineHeight: "15px", paddingLeft: 2, boxSizing: "border-box", color: "#000" })}>
        <S c="#FF00FF" t="HH12" /> = 17.35, <S c="#0000FF" t="HH6" /> = 17.35, <S c="#FF0000" t="HH3" /> = 17.35, <S c="#00FFFF" t="LL12" /> = 9.26, <S c="#0000FF" t="HT" />&nbsp; = 14.90, <S c="#FF6A28" t="HT3" />&nbsp; = 15.35, <S c="#FF0000" t="KC" /> = {"{EMPTY}"}
      </div>

      <Fact x={2} y={62} w={50} h={26} size={24} text="EXIT" />
      {factRows.map((t, i) => {
        const widths = [80, 68, 59, 53, 129, 68, 68, 171, 135, 92, 217, 141];
        return <Fact key={t} x={5} y={99 + i * 20} w={widths[i]} h={18} size={15.6} text={t} />;
      })}
      <Fact x={7} y={352} w={108} h={29} size={20} text="HHV: TĂNG" />
      <Fact x={7} y={382} w={301} h={29} size={20} text="IBD (42.2), HL (17.9), RSIV (68.3)" />
      <Fact x={7} y={412} w={77} h={25} size={20} text="RS: 88.0" />
      <Fact x={7} y={437} w={128} h={29} size={20} text="VDK/V:  (1.97)" />
      <Fact x={9} y={468} w={401} h={32} size={27.2} text="F.O.X SYSTEM - HHV 9/28/2025" />
      <Fact x={6} y={498} w={20} h={15} size={15} text="74" color="#FF00FF" />
      <Fact x={541} y={62} w={47} h={43} size={37} text="S1" />
      <Fact x={601} y={62} w={78} h={43} size={37} text="S2M" />
      <Fact x={815} y={42} w={82} h={53} size={38} text="8(-1)" />

      <Fact x={3} y={561} w={172} h={15} size={12} text={<span style={{ color: "#000" }}>HHV - <S c="#FF0000" t="Volume" /> = 26,749,100.00</span>} />
      <Fact x={251} y={559} w={332} h={23} size={20.4} text="F.O.X SYSTEM Tel +84.389.352.357" />
      <Fact x={4} y={625} w={157} h={14} size={12} text={<span style={{ color: "#000" }}>HHV - <S c="#0000FF" t="Muc do an toan" /> = 8.00</span>} />

      {/* price tags */}
      <Tag x={901} y={45} w={39} bg="#FF00FF" text="17.35" />
      <Tag x={901} y={60} w={39} bg="#0000FF" color="#fff" text="17.35" />
      <Tag x={901} y={75} w={39} bg="#FF0000" text="17.35" />
      <Tag x={901} y={110} w={51} bg="#FF00FF" text="16.6882" />
      <Tag x={893} y={125} w={40} bg="#000" color="#fff" text="16.6" arrow />
      <Tag x={901} y={205} w={51} bg="#00FFFF" text="15.4185" />
      <Tag x={901} y={220} w={46} bg="#FF6A28" text="15.347" />
      <Tag x={901} y={235} w={51} bg="#FF00FF" text="15.2025" />
      <Tag x={901} y={250} w={32} bg="#0000FF" color="#fff" text="14.9" />
      <Tag x={901} y={533} w={51} bg="#00FFFF" text="9.25714" />
      <Tag x={893} y={575} w={59} bg="#FF0000" text="26,749,100" arrow />
      <Tag x={901} y={590} w={51} bg="#FF00FF" text="13,547,900" />
      <Tag x={893} y={627} w={23} bg="#0000FF" color="#fff" text="8" arrow />
    </div>
  );
}
